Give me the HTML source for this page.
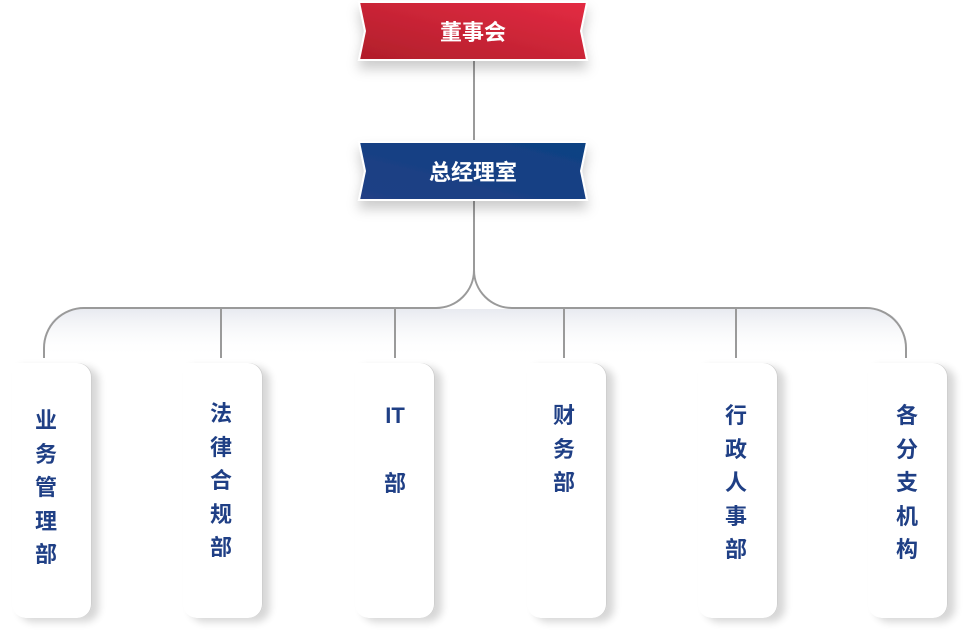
<!DOCTYPE html>
<html><head><meta charset="utf-8"><style>
html,body{margin:0;padding:0;background:#fff;}
body{width:964px;height:640px;position:relative;overflow:hidden;font-family:"Liberation Sans","Noto Sans CJK SC",sans-serif;}
.card{position:absolute;top:363px;height:255px;width:80px;background:#fff;border-radius:0 14px 14px 14px;
 box-shadow:7px 4px 8px rgba(0,0,0,0.16), inset -1px 0 0 #cfcfcf;}
.txt{position:absolute;color:#1f3f85;font-size:22px;font-weight:bold;text-align:center;width:40px;line-height:33.5px;}
</style></head><body>
<svg width="964" height="640" style="position:absolute;left:0;top:0">
<defs>
<linearGradient id="r" x1="0" y1="1" x2="1" y2="0"><stop offset="0" stop-color="#b01e2a"/><stop offset="1" stop-color="#e42b43"/></linearGradient>
<linearGradient id="b" x1="0" y1="1" x2="1" y2="0"><stop offset="0" stop-color="#213f85"/><stop offset="1" stop-color="#0e4283"/></linearGradient>
<linearGradient id="sh" x1="0" y1="0" x2="0" y2="1"><stop offset="0" stop-color="#e8eaf0"/><stop offset="1" stop-color="#fff" stop-opacity="0"/></linearGradient>
<filter id="f" x="-20%" y="-50%" width="140%" height="220%"><feDropShadow dx="0" dy="8" stdDeviation="6" flood-color="#000" flood-opacity="0.2"/></filter>
</defs>
<path d="M84 309 H866 Q906 309 906 349 L906 358 L44 358 L44 349 Q44 309 84 309Z" fill="url(#sh)"/>
<path d="M474 60 V140" stroke="#9a9a9a" stroke-width="2" fill="none"/>
<path d="M474 200 V270 A38 38 0 0 1 436 308 H84 A40 40 0 0 0 44 348 V358" stroke="#9a9a9a" stroke-width="2" fill="none"/>
<path d="M474 270 A38 38 0 0 0 512 308 H866 A40 40 0 0 1 906 348 V358" stroke="#9a9a9a" stroke-width="2" fill="none"/>
<path d="M221 308V358M395 308V358M564 308V358M736 308V358" stroke="#9a9a9a" stroke-width="2"/>
<polygon points="359,2 587,2 581,31 587,60 359,60 365,31" fill="url(#r)" stroke="#fff" stroke-width="2" filter="url(#f)"/>
<polygon points="359,142 587,142 581,171 587,200 359,200 365,171" fill="url(#b)" stroke="#fff" stroke-width="2" filter="url(#f)"/>
<text x="473" y="40" fill="#fff" font-size="22" font-weight="bold" text-anchor="middle" font-family="Liberation Sans,Noto Sans CJK SC,sans-serif">董事会</text>
<text x="473" y="180" fill="#fff" font-size="22" font-weight="bold" text-anchor="middle" font-family="Liberation Sans,Noto Sans CJK SC,sans-serif">总经理室</text>
</svg>
<div class="card" style="left:12px"></div>
<div class="card" style="left:183px"></div>
<div class="card" style="left:355px"></div>
<div class="card" style="left:527px"></div>
<div class="card" style="left:698px"></div>
<div class="card" style="left:868px"></div>
<div class="txt" style="left:26px;top:404px">业<br>务<br>管<br>理<br>部</div>
<div class="txt" style="left:201px;top:397px">法<br>律<br>合<br>规<br>部</div>
<div class="txt" style="left:375px;top:399px;line-height:34px">IT<br><br>部</div>
<div class="txt" style="left:544px;top:399px">财<br>务<br>部</div>
<div class="txt" style="left:716px;top:399px">行<br>政<br>人<br>事<br>部</div>
<div class="txt" style="left:887px;top:399px">各<br>分<br>支<br>机<br>构</div>
</body></html>
